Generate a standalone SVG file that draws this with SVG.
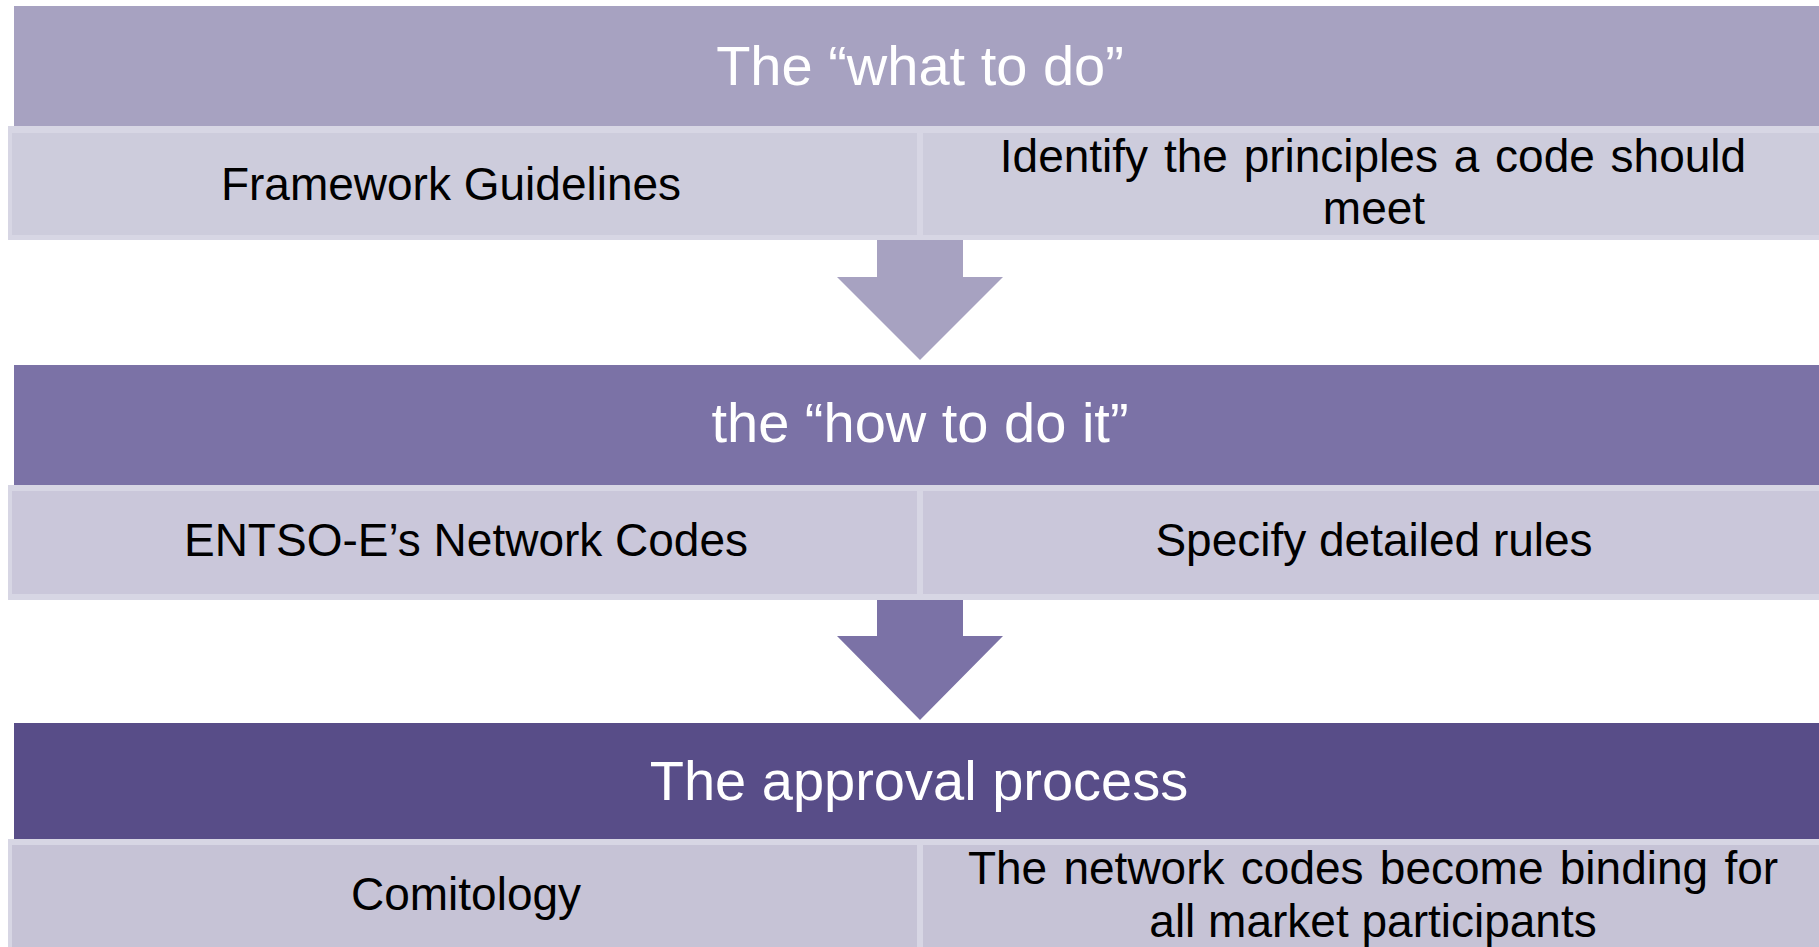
<svg xmlns="http://www.w3.org/2000/svg" width="1819" height="947" viewBox="0 0 1819 947">
  <style>
    .hdr { font-family: "Liberation Sans", Arial, sans-serif; font-size: 56px; fill: #FFFFFF; text-anchor: middle; }
    .body { font-family: "Liberation Sans", Arial, sans-serif; font-size: 46px; fill: #000000; text-anchor: middle; }
    .band { fill: #D7D6E4; }
  </style>
  <rect x="0" y="0" width="1819" height="947" fill="#FFFFFF"/>

  <g id="connectors">
    <polygon id="arrow1" points="877,240 963,240 963,277 1003,277 920,360 837,277 877,277" fill="#A7A2C1"/>
    <polygon id="arrow2" points="877,600 963,600 963,636 1003,636 920,720 837,636 877,636" fill="#7B72A6"/>
  </g>

  <g id="header1">
    <rect x="14" y="6" width="1805" height="120" fill="#A7A2C1"/>
    <text class="hdr" x="920" y="85">The “what to do”</text>
  </g>
  <g id="row1">
    <rect class="band" x="8" y="126" width="1811" height="114"/>
    <rect x="12" y="133" width="905" height="102" fill="#CDCCDC"/>
    <rect x="923" y="133" width="896" height="102" fill="#CDCCDC"/>
  </g>
  <g id="cell-framework">
    <text class="body" x="451" y="200">Framework Guidelines</text>
  </g>
  <g id="cell-identify">
    <text class="body" x="1373" y="172" word-spacing="3">Identify the principles a code should</text>
    <text class="body" x="1374" y="224">meet</text>
  </g>

  <g id="header2">
    <rect x="14" y="365" width="1805" height="120" fill="#7B72A6"/>
    <text class="hdr" x="920" y="442">the “how to do it”</text>
  </g>
  <g id="row2">
    <rect class="band" x="8" y="485" width="1811" height="115"/>
    <rect x="12" y="491" width="905" height="103" fill="#CAC7DA"/>
    <rect x="923" y="491" width="896" height="103" fill="#CAC7DA"/>
  </g>
  <g id="cell-entsoe">
    <text class="body" x="466" y="556">ENTSO-E’s Network Codes</text>
  </g>
  <g id="cell-specify">
    <text class="body" x="1374" y="556">Specify detailed rules</text>
  </g>

  <g id="header3">
    <rect x="14" y="723" width="1805" height="116" fill="#584D88"/>
    <text class="hdr" x="919" y="800">The approval process</text>
  </g>
  <g id="row3">
    <rect class="band" x="8" y="839" width="1811" height="108"/>
    <rect x="12" y="845" width="905" height="102" fill="#C6C3D6"/>
    <rect x="923" y="845" width="896" height="102" fill="#C6C3D6"/>
  </g>
  <g id="cell-comitology">
    <text class="body" x="466" y="910">Comitology</text>
  </g>
  <g id="cell-binding">
    <text class="body" x="1373" y="884" word-spacing="3.5">The network codes become binding for</text>
    <text class="body" x="1373" y="937">all market participants</text>
  </g>
</svg>
